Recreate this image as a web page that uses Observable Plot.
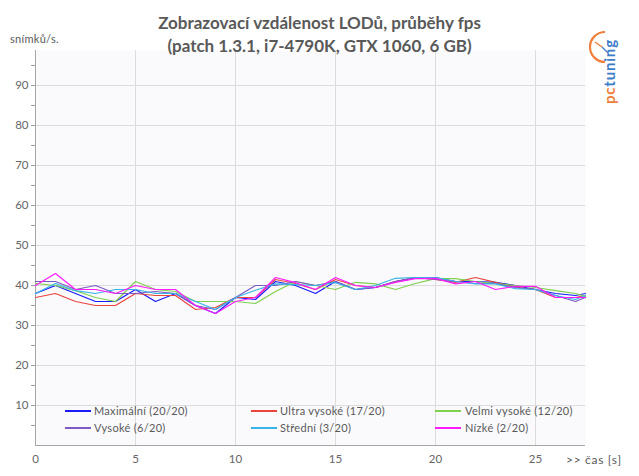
<!DOCTYPE html>
<html>
<head>
<meta charset="utf-8">
<script src="https://cdn.jsdelivr.net/npm/d3@7"></script>
<script src="https://cdn.jsdelivr.net/npm/@observablehq/plot@0.6"></script>
<style>
  html, body { margin: 0; padding: 0; background: #fff; }
  #wrap { position: relative; width: 639px; height: 476px; font-family: Lato, "Open Sans", sans-serif; color: #595959; }
  #title { position: absolute; left: 0; width: 639px; top: 11px; text-align: center; font-weight: bold; font-size: 17px; line-height: 23px; color: #595959; }
  #ylab { position: absolute; left: 10px; top: 32px; font-size: 11px; letter-spacing: 0.3px; }
  #xlab { position: absolute; left: 566px; top: 452px; font-size: 12px; letter-spacing: 0.7px; }
  .leg { position: absolute; font-size: 11px; letter-spacing: 0.3px; white-space: nowrap; line-height: 14px; }
  .sw { position: absolute; height: 1.5px; width: 26px; }
  #logo { position: absolute; left: 603px; top: 104px; transform-origin: 0 0; transform: rotate(-90deg); font-family: Lato, sans-serif; font-weight: bold; font-size: 15px; line-height: 13px; letter-spacing: 0.8px; white-space: nowrap; }
  #clock { position: absolute; left: 585px; top: 28px; }
</style>
</head>
<body>
<div id="wrap">
  <div id="chart"></div>
  <div id="title">Zobrazovací vzdálenost LODů, průběhy fps<br>(patch 1.3.1, i7-4790K, GTX 1060, 6 GB)</div>
  <div id="ylab">snímků/s.</div>
  <div id="xlab">&gt;&gt; čas [s]</div>
  <div id="legend"></div>
  <svg id="clock" width="30" height="40" viewBox="0 0 30 40">
    <path d="M 20 4 A 15 15 0 0 0 20 34" fill="none" stroke="#f07f3c" stroke-width="2.2"/>
    <line x1="17" y1="19" x2="10" y2="14" stroke="#f07f3c" stroke-width="1.5"/>
    <line x1="17" y1="19" x2="22" y2="24" stroke="#3d7cc9" stroke-width="1.2"/>
  </svg>
  <div id="logo"></div>
</div>
<script>
// time (s)
const times = [0,1,2,3,4,5,6,7,8,9,10,11,12,13,14,15,16,17,18,19,20,21,22,23,24,25,26,27,27.5];

const seriesNames = ["Maximální (20/20)", "Ultra vysoké (17/20)", "Velmi vysoké (12/20)", "Vysoké (6/20)", "Střední (3/20)", "Nízké (2/20)"];
const seriesColors = ["#1a1aff", "#e8453c", "#7fd04e", "#7e5bc2", "#38b4e6", "#ff1aff"];

const maximalni   = [38,40,38,36,36,39,36,38,35,33,37,36.5,41,40,38,41,39,39.5,41,42,42,41,41,40.8,40,39,38,37.5,38];
const ultraVysoke = [37,38,36,35,35,38,37.5,37.5,34,34.5,37,37,41.5,40.5,39,41.5,40,39.5,41,42,41.5,40.8,42,40.8,39.6,39,37,37,37.5];
const velmiVysoke = [40.5,40,38.7,37,36,41,39,38.5,36,36,36,35.5,38.5,41,40,39,40.8,40.4,39,40.5,41.7,41.7,41,40.5,40,39.5,38.7,38,37.3];
const vysoke      = [41,41,39,40,38,38,38.5,38,35,34,37,40,40,41,40,41,39,39.5,41,42,41.5,41,40.5,40.5,39.5,39,37.5,36,37];
const stredni     = [38,40.5,38.7,38,39,39,38,38,36,34,37,38.8,40.4,40.2,40,40.7,39,40,41.8,42,42,41,40.4,40.4,39.2,39,37.5,36.5,37.5];
const nizke       = [40,43,39,39,38,40,39,39,35,33,36,37,42,40.7,39,42,40,39.5,40.8,41.7,41.8,40.4,41,39,39.8,39.8,37,37,37];

const xTicks = [0,5,10,15,20,25];
const yGrid = [10,20,30,40,50,60,70,80,90];
const yTicks = [5,10,15,20,25,30,35,40,45,50,55,60,65,70,75,80,85,90,95];

const allSeries = [maximalni, ultraVysoke, velmiVysoke, vysoke, stredni, nizke];
const rows = [];
allSeries.forEach((vals, i) => vals.forEach((v, j) => rows.push({series: seriesNames[i], t: times[j], v})));

const chart = Plot.plot({
  width: 639, height: 476,
  marginLeft: 35, marginRight: 54, marginTop: 50, marginBottom: 31,
  x: {domain: [0, 27.5]},
  y: {domain: [0, 98.75]},
  color: {domain: seriesNames, range: seriesColors},
  style: {fontFamily: "Lato, 'Open Sans', sans-serif", fontSize: "11.5px", color: "#595959", background: "transparent"},
  marks: [
    Plot.frame({fill: "#fafafd", stroke: null}),
    Plot.gridX(xTicks, {stroke: "#dcdcdc", strokeOpacity: 1}),
    Plot.gridY(yGrid, {stroke: "#dcdcdc", strokeOpacity: 1}),
    Plot.axisY(yTicks, {tickSize: 4, tickPadding: 3, stroke: "#a0a0a0", tickFormat: d => d % 10 ? "" : d, fill: "#666", label: null}),
    Plot.axisX(xTicks, {tickSize: 0, tickPadding: 9, fill: "#666", label: null}),
    Plot.ruleX([0], {stroke: "#a6a6a6"}),
    Plot.ruleY([0], {stroke: "#a6a6a6"}),
    Plot.line(rows, {x: "t", y: "v", z: "series", stroke: "series", strokeWidth: 1.2})
  ]
});
document.getElementById("chart").appendChild(chart);

// legend (HTML, 3 columns x 2 rows)
const legSwatchX = [65, 251, 435];
const legTextX = [94, 280, 465];
const legRows = [404, 421];
const legend = document.getElementById("legend");
seriesNames.forEach((name, i) => {
  const col = i % 3, row = Math.floor(i / 3);
  const s = document.createElement("div");
  s.className = "sw";
  s.style.left = legSwatchX[col] + "px";
  s.style.top = (legRows[row] + 6) + "px";
  s.style.background = seriesColors[i];
  legend.appendChild(s);
  const d = document.createElement("div");
  d.className = "leg";
  d.style.left = legTextX[col] + "px";
  d.style.top = legRows[row] + "px";
  d.textContent = name;
  legend.appendChild(d);
});

document.getElementById("logo").innerHTML = '<span style="color:#f07f3c">pc</span><span style="color:#3d7cc9">tuning</span>';
</script>
</body>
</html>
